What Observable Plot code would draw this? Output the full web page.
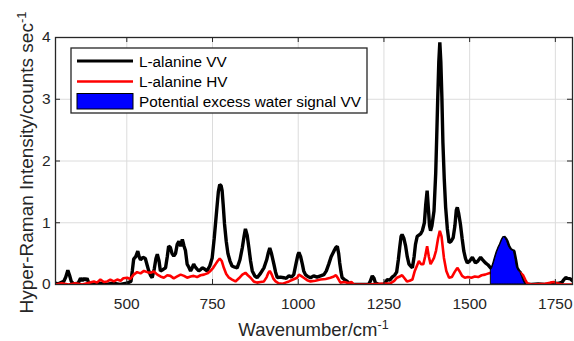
<!DOCTYPE html>
<html><head><meta charset="utf-8">
<script src="https://cdn.jsdelivr.net/npm/d3@7"></script>
<script src="https://cdn.jsdelivr.net/npm/@observablehq/plot@0.6"></script>
<style>body{margin:0;background:#fff}</style>
</head><body><div id="chart"></div>
<script>
// ---- data ----
const vvWavenumber = [292,300,316,322,328,333,338,345,358,365,370,375,380,384,390,400,420,440,460,480,500,512,516,520,526,532,536,540,547,554,560,564,569,574,580,585,589,594,598,605,613,618,622,627,632,637,642,647,652,657,662,667,671,676,681,686,690,695,700,705,710,715,720,727,734,742,749,755,762,767,771,775,778,781,785,790,795,801,807,815,822,830,837,842,846,851,856,861,866,873,880,890,900,908,913,917,922,929,934,939,948,958,965,973,980,987,994,999,1002,1007,1012,1016,1021,1028,1036,1045,1055,1065,1075,1082,1089,1096,1104,1110,1114,1118,1121,1125,1128,1135,1143,1153,1170,1190,1205,1210,1216,1221,1225,1235,1250,1255,1260,1267,1274,1281,1287,1292,1296,1300,1303,1308,1313,1318,1323,1328,1333,1338,1342,1347,1352,1357,1362,1368,1372,1376,1380,1383,1386,1390,1396,1401,1404,1407,1410,1413,1416,1419,1422,1426,1430,1435,1440,1446,1452,1457,1461,1464,1468,1473,1478,1483,1488,1493,1500,1508,1512,1517,1524,1532,1538,1546,1553,1561,1565,1570,1575,1580,1585,1590,1595,1600,1605,1609,1614,1619,1624,1629,1634,1638,1643,1648,1653,1658,1663,1680,1700,1720,1740,1760,1770,1775,1780,1786,1794,1800];
const vvIntensity = [0.02,0.01,0.05,0.12,0.23,0.15,0.05,0.01,0.02,0.10,0.06,0.10,0.07,0.10,0.01,0.0,0.02,0.0,0.02,0.0,0.02,0.05,0.22,0.41,0.45,0.54,0.45,0.40,0.44,0.42,0.30,0.22,0.15,0.11,0.25,0.42,0.49,0.38,0.22,0.24,0.27,0.45,0.62,0.60,0.50,0.46,0.50,0.65,0.70,0.62,0.73,0.62,0.55,0.33,0.28,0.22,0.26,0.33,0.28,0.25,0.22,0.24,0.27,0.25,0.22,0.30,0.43,0.75,1.19,1.50,1.62,1.60,1.52,1.30,0.98,0.70,0.50,0.38,0.30,0.28,0.27,0.40,0.60,0.78,0.90,0.80,0.60,0.38,0.22,0.14,0.11,0.18,0.27,0.40,0.52,0.59,0.50,0.33,0.20,0.11,0.12,0.11,0.10,0.14,0.12,0.16,0.35,0.48,0.52,0.45,0.33,0.22,0.16,0.13,0.11,0.14,0.12,0.14,0.16,0.22,0.33,0.45,0.54,0.60,0.62,0.50,0.35,0.20,0.11,0.08,0.05,0.0,0.0,0.0,0.0,0.05,0.14,0.10,0.03,0.0,0.0,0.04,0.08,0.07,0.12,0.15,0.20,0.40,0.60,0.78,0.81,0.75,0.63,0.45,0.33,0.30,0.27,0.45,0.65,0.78,0.80,0.82,0.87,1.00,1.30,1.52,1.20,0.95,0.87,0.95,1.19,1.80,2.40,3.03,3.60,3.92,3.60,3.03,2.30,1.70,1.25,0.90,0.68,0.70,0.76,0.95,1.20,1.25,1.15,0.98,0.75,0.54,0.42,0.35,0.38,0.44,0.40,0.35,0.38,0.44,0.40,0.35,0.32,0.27,0.25,0.33,0.43,0.52,0.59,0.65,0.72,0.77,0.74,0.70,0.62,0.57,0.55,0.54,0.40,0.27,0.22,0.19,0.12,0.05,0.0,0.0,0.01,0.0,0.0,0.02,0.04,0.08,0.11,0.10,0.09,0.06];

const hvWavenumber = [292,310,330,350,370,390,404,413,423,433,443,452,462,472,482,490,501,510,520,530,540,550,560,569,579,589,598,608,618,627,637,647,657,667,676,686,695,705,715,725,735,744,752,759,765,771,777,783,790,798,807,817,827,837,846,853,861,870,880,890,900,908,913,917,922,928,934,943,953,963,973,985,997,1002,1008,1016,1026,1036,1050,1065,1080,1094,1104,1110,1116,1123,1135,1148,1155,1162,1200,1269,1280,1288,1296,1303,1310,1317,1325,1333,1340,1346,1352,1358,1365,1370,1376,1381,1386,1391,1396,1402,1408,1413,1418,1425,1432,1440,1448,1456,1464,1470,1478,1486,1495,1505,1515,1525,1535,1545,1555,1561,1575,1590,1605,1620,1635,1643,1650,1656,1662,1668,1680,1720,1735,1745,1755,1770,1800];
const hvIntensity = [0.0,0.02,0.0,0.02,0.0,0.03,0.05,0.03,0.08,0.04,0.05,0.08,0.05,0.08,0.06,0.10,0.11,0.09,0.16,0.20,0.18,0.22,0.20,0.19,0.21,0.16,0.13,0.11,0.15,0.14,0.10,0.13,0.16,0.14,0.11,0.13,0.14,0.12,0.15,0.16,0.18,0.22,0.27,0.33,0.38,0.42,0.38,0.27,0.17,0.11,0.08,0.05,0.10,0.16,0.19,0.15,0.11,0.05,0.03,0.04,0.05,0.12,0.19,0.22,0.17,0.09,0.05,0.02,0.01,0.03,0.05,0.08,0.11,0.16,0.14,0.11,0.07,0.05,0.06,0.08,0.09,0.11,0.13,0.15,0.10,0.03,0.04,0.02,0.04,0.0,0.0,0.02,0.06,0.11,0.13,0.15,0.10,0.05,0.06,0.08,0.22,0.30,0.38,0.33,0.33,0.45,0.62,0.45,0.33,0.38,0.43,0.55,0.75,0.87,0.78,0.43,0.22,0.11,0.12,0.20,0.27,0.22,0.14,0.11,0.12,0.11,0.13,0.12,0.15,0.16,0.18,0.19,0.20,0.24,0.26,0.24,0.22,0.20,0.18,0.15,0.08,0.02,0.0,0.01,0.03,0.04,0.02,0.0,0.0];

const waterRange = [1563, 1663];
const xTicks = [500, 750, 1000, 1250, 1500, 1750];
const yTicks = [0, 1, 2, 3, 4];
const xDomain = [292, 1800];
const yDomain = [0, 4];
const seriesNames = ["L-alanine VV", "L-alanine HV", "Potential excess water signal VV"];
const seriesColors = ["#000000", "#ff0000", "#0000ff"];
const xLabel = ["Wavenumber/cm", "-1"];
const yLabel = ["Hyper-Raman Intensity/counts sec", "-1"];

// ---- build tables ----
const vv = vvWavenumber.map((w, i) => ({w, v: vvIntensity[i]}));
const hv = hvWavenumber.map((w, i) => ({w, v: hvIntensity[i]}));
const water = [{w: waterRange[0], v: 0.25}].concat(vv.filter(d => d.w > waterRange[0] && d.w <= waterRange[1]));

const W = 574, H = 341, mL = 55, mR = 2, mT = 37, mB = 57;
const innerW = W - mL - mR, innerH = H - mT - mB;
const axisColor = "#262626", gridColor = "#dcdcdc", tickLen = 5;

const svg = Plot.plot({
  width: W, height: H,
  marginLeft: mL, marginRight: mR, marginTop: mT, marginBottom: mB,
  style: {fontFamily: "'Liberation Sans', Arial, sans-serif", fontSize: "15.5px", color: axisColor, background: "#fff"},
  x: {domain: xDomain, label: null},
  y: {domain: yDomain, label: null},
  marks: [
    Plot.gridX(xTicks, {stroke: gridColor, strokeOpacity: 1}),
    Plot.gridY(yTicks, {stroke: gridColor, strokeOpacity: 1}),
    Plot.line(vv, {x: "w", y: "v", stroke: seriesColors[0], strokeWidth: 3.4, strokeLinejoin: "miter", clip: true}),
    Plot.line(hv, {x: "w", y: "v", stroke: seriesColors[1], strokeWidth: 2.6, strokeLinejoin: "miter", clip: true}),
    Plot.areaY(water, {x: "w", y: "v", fill: seriesColors[2], stroke: "#000", strokeWidth: 1, clip: true}),
    Plot.tickX(xTicks, {x: d => d, stroke: axisColor, insetTop: innerH - tickLen}),
    Plot.tickX(xTicks, {x: d => d, stroke: axisColor, insetBottom: innerH - tickLen}),
    Plot.tickY(yTicks, {y: d => d, stroke: axisColor, insetRight: innerW - tickLen}),
    Plot.tickY(yTicks, {y: d => d, stroke: axisColor, insetLeft: innerW - tickLen}),
    Plot.frame({stroke: axisColor, strokeWidth: 1.3}),
    Plot.axisX(xTicks, {tickSize: 0, tickPadding: 13, label: null, fill: axisColor, tickFormat: d3.format("d")}),
    Plot.axisY(yTicks, {tickSize: 0, tickPadding: 5, label: null, fill: axisColor, tickFormat: d3.format("d")})
  ]
});
document.getElementById("chart").appendChild(svg);

const s = d3.select(svg);
// axis labels with superscripts
const xl = s.append("text").attr("x", mL + innerW / 2).attr("y", 336)
  .attr("text-anchor", "middle").attr("font-size", 18.5).attr("fill", axisColor);
xl.append("tspan").text(xLabel[0]);
xl.append("tspan").attr("dy", "-0.55em").attr("font-size", 12.5).text(xLabel[1]);

const yl = s.append("text").attr("transform", `translate(33,${mT + innerH / 2 + 2}) rotate(-90)`)
  .attr("text-anchor", "middle").attr("font-size", 19).attr("fill", axisColor);
yl.append("tspan").text(yLabel[0]);
yl.append("tspan").attr("dy", "-0.55em").attr("font-size", 13).text(yLabel[1]);

// legend
const lg = s.append("g").attr("text-anchor", "start");
lg.append("rect").attr("x", 71).attr("y", 48).attr("width", 296).attr("height", 65)
  .attr("fill", "#fff").attr("stroke", axisColor).attr("stroke-width", 1.3);
const rowY = [61, 81.5, 101.5];
seriesNames.forEach((name, i) => {
  if (i < 2) {
    lg.append("line").attr("x1", 77).attr("x2", 133).attr("y1", rowY[i]).attr("y2", rowY[i])
      .attr("stroke", seriesColors[i]).attr("stroke-width", i === 0 ? 3.2 : 2.6);
  } else {
    lg.append("rect").attr("x", 77).attr("y", rowY[i] - 8).attr("width", 56).attr("height", 15.5)
      .attr("fill", seriesColors[i]).attr("stroke", "#000").attr("stroke-width", 1);
  }
  lg.append("text").attr("x", 139).attr("y", rowY[i] + 5.5).attr("font-size", 15.3)
    .attr("text-anchor", "start").attr("fill", "#000").text(name);
});
</script>
</body></html>
